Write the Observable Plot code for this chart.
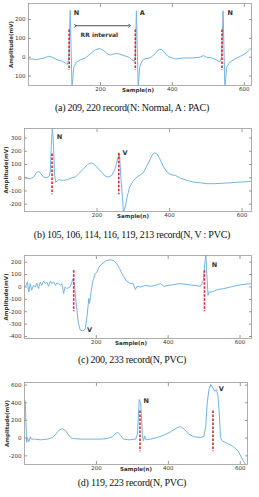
<!DOCTYPE html>
<html><head><meta charset="utf-8">
<script src="https://cdn.jsdelivr.net/npm/d3@7"></script>
<script src="https://cdn.jsdelivr.net/npm/@observablehq/plot@0.6"></script>
<style>
body{margin:0;background:#fff;}
#wrap{position:relative;width:259px;height:497px;overflow:hidden;background:#fff;}
.panel{position:absolute;left:0;}
.cap{position:absolute;left:0;width:264px;text-align:center;font-family:"Liberation Serif",serif;font-size:10px;letter-spacing:-0.25px;color:#111;line-height:12px;white-space:nowrap;}
</style></head><body><div id="wrap"></div><script>
// ---------- shared ----------
const xTicks = [200, 400, 600];

// ---------- (a) ----------
const sampleA = [0,24,43,56,66,80,94,103,108,112,116,121,126,133,144,158,172,186,198,209,219,228,242,251,265,279,288,294,297,300,305,309,316,324,338,352,361,369,378,388,408,431,454,477,486,495,509,523,532,537,541,546,551,560,574,588,602,612,620];
const ampA = [-9,-12,-4,5,0,-14,-21,-32,-39,-5,249,-165,-53,-26,-14,-4,18,39,47,35,18,12,21,18,9,0,-14,-21,0,246,-165,-53,-18,-8,-4,18,39,42,26,4,-9,-4,-4,0,9,0,-4,-14,-26,0,246,-165,-53,-26,-9,4,18,35,50];
const yTicksA = [200, 100, 0, -100];
const yTickTextA = ["200", "100", "0", "100"];
const beatXA = [113, 297, 538];
const beatTopA = [145, 145, 145];
const beatBottomA = [-70, -70, -70];
const beatLabelA = ["N", "A", "N"];
const beatLabelXA = [126, 309, 553];
const beatLabelYA = [237, 237, 237];
const rrStartA = [130], rrEndA = [281], rrLevelA = [167];
const rrTextA = ["RR interval"], rrTextXA = [197], rrTextYA = [118];

// ---------- (b) ----------
const sampleB = [2,16,25,33,39,45,53,62,68,71,74,77,80,83,86,94,108,122,131,140,149,163,174,184,193,202,214,223,232,241,250,257,262,266,270,273,278,283,290,299,310,320,329,338,347,354,359,366,373,384,393,404,416,430,448,467,485,504,522,540,568,595,623];
const ampB = [0,-8,5,38,50,30,5,0,12,43,242,380,242,18,-33,-15,-20,-12,0,5,30,68,100,113,100,73,38,12,5,18,68,143,180,-8,-145,-260,-220,-145,-70,-28,5,23,43,93,143,180,188,178,143,80,43,23,18,-3,-20,-33,-38,-45,-45,-43,-38,-33,-28];
const yTicksB = [300, 200, 100, 0, -100, -200];
const beatXB = [76, 260];
const beatTopB = [180, 185];
const beatBottomB = [-128, -128];
const beatLabelB = ["N", "V"];
const beatLabelXB = [89, 270];
const beatLabelYB = [312, 188];

// ---------- (c) ----------
const sampleC = [0,5,8,12,16,20,25,30,34,39,44,48,53,58,62,67,72,76,81,86,90,95,100,104,109,113,118,123,127,132,135,139,142,146,150,155,163,169,174,179,181,186,191,197,202,207,216,228,239,248,256,265,274,284,293,302,309,313,323,337,351,365,379,388,402,416,434,453,472,490,498,502,505,507,511,514,523,537,555,574,593,611,630];
const ampC = [0,13,40,-40,27,-27,13,0,32,-13,40,13,48,27,40,5,48,27,40,13,32,27,13,27,-53,0,-13,-5,0,40,67,27,-80,-187,-293,-347,-355,-341,-240,-93,-133,-27,53,107,120,160,187,213,219,213,192,147,93,48,32,27,-21,5,0,13,5,13,27,5,13,19,27,19,13,5,53,187,270,133,-67,-40,-40,-21,-13,0,13,21,27];
const yTicksC = [200, 100, 0, -100, -200, -300, -400];
const beatXC = [137, 501];
const beatTopC = [130, 130];
const beatBottomC = [-200, -200];
const beatLabelC = ["V", "N"];
const beatLabelXC = [174, 521];
const beatLabelYC = [-347, 181];

// ---------- (d) ----------
const sampleD = [0,2,4,6,8,12,16,19,27,45,64,78,87,96,106,115,124,133,156,184,212,231,244,254,260,268,275,291,309,314,319,323,328,331,334,338,351,369,388,406,425,434,444,457,471,490,499,504,508,513,518,524,529,534,538,542,545,550,564,578,593,601,608,615,620];
const ampD = [430,419,176,-49,7,-41,15,-11,-11,-19,-11,7,45,90,108,82,26,-4,-11,-11,-11,-4,15,56,64,26,-11,-19,-11,45,438,400,26,-30,26,-19,-11,7,34,71,120,131,101,45,15,7,19,138,400,550,606,568,531,550,475,251,7,-31,-60,-87,-142,-200,-254,-300,-320];
const yTicksD = [600, 400, 200, 0, -200];
const beatXD = [321, 524];
const beatTopD = [307, 307];
const beatBottomD = [-153, -153];
const beatLabelD = ["N", "V"];
const beatLabelXD = [331, 540];
const beatLabelYD = [419, 557];

const yAxisLabel = "Amplitude(mV)";
const xAxisLabel = "Sample(n)";
const captions = [
  "(a) 209, 220 record(N: Normal, A : PAC)",
  "(b) 105, 106, 114, 116, 119, 213 record(N, V : PVC)",
  "(c) 200, 233 record(N, PVC)",
  "(d) 119, 223 record(N, PVC)"
];

// ---------- drawing ----------
const lineColor = "#74b4e2";
const redColor = "#e0262a";
const frameColor = "#9a9a9a";
const font = "'DejaVu Sans', sans-serif";

function panel(cfg) {
  const pts = cfg.sample.map((s, i) => ({s, v: cfg.amp[i]}));
  const beats = cfg.beatX.map((x, i) => ({x, y1: cfg.beatTop[i], y2: cfg.beatBottom[i]}));
  const labs = cfg.labelText.map((t, i) => ({t, x: cfg.labelX[i], y: cfg.labelY[i]}));
  const fmt = cfg.yTickText ? (d => cfg.yTickText[cfg.yTicks.indexOf(d)]) : (d => String(d));
  const marks = [
    Plot.line(pts, {x: "s", y: "v", stroke: lineColor, strokeWidth: 1, clip: true}),
    Plot.ruleX(beats, {x: "x", y1: "y1", y2: "y2", stroke: redColor, strokeWidth: 1.6, strokeDasharray: "2.5,1.5"}),
    Plot.text(labs, {x: "x", y: "y", text: "t", textAnchor: "start", fontSize: 6.5, fontWeight: "bold", fill: "#333"}),
    Plot.frame({stroke: frameColor, strokeWidth: 0.8}),
    Plot.axisX(xTicks, {anchor: "bottom", tickSize: -3, tickPadding: 4.5, stroke: frameColor, fill: "#333", label: null}),
    Plot.axisX(xTicks, {anchor: "top", tickSize: -3, tickFormat: () => "", stroke: frameColor, label: null}),
    Plot.axisY(cfg.yTicks, {anchor: "left", tickSize: -3, tickPadding: 6, tickFormat: fmt, stroke: frameColor, fill: "#333", label: null}),
    Plot.axisY(cfg.yTicks, {anchor: "right", tickSize: -3, tickFormat: () => "", stroke: frameColor, label: null}),
    Plot.axisY([], {anchor: "left", tickSize: 0, label: yAxisLabel, labelAnchor: "center", labelArrow: false, labelOffset: cfg.yLabelOffset, fontWeight: "bold", fill: "#333"}),
    Plot.text([xAxisLabel], {frameAnchor: "bottom", dy: 4.5, dx: cfg.xLabelDx, lineAnchor: "middle", fontWeight: "bold", fill: "#333"})
  ];
  if (cfg.extra) marks.push(...cfg.extra);
  return Plot.plot({
    width: 259,
    height: cfg.height,
    marginTop: 3,
    marginBottom: 10,
    marginLeft: cfg.ml,
    marginRight: cfg.mr,
    x: {domain: cfg.xDomain, label: null},
    y: {domain: cfg.yDomain, label: null},
    style: {fontFamily: font, fontSize: "5.5px", background: "transparent", overflow: "visible"},
    marks
  });
}

const rrExtra = [
  Plot.link([0], {x1: () => rrStartA[0], x2: () => rrEndA[0], y1: () => rrLevelA[0], y2: () => rrLevelA[0], stroke: "#222", strokeWidth: 0.8, markerStart: "arrow", markerEnd: "arrow"}),
  Plot.text(rrTextA, {x: rrTextXA, y: rrTextYA, text: d => d, fontSize: 6, fontWeight: "bold", fill: "#333"})
];

const panels = [
  {top: 0, cfg: {sample: sampleA, amp: ampA, xDomain: [0, 620], yDomain: [-150, 285], yTicks: yTicksA, yTickText: yTickTextA,
    beatX: beatXA, beatTop: beatTopA, beatBottom: beatBottomA, labelText: beatLabelA, labelX: beatLabelXA, labelY: beatLabelYA,
    ml: 28, mr: 8, height: 95, xLabelDx: -2, yLabelOffset: 19.7, extra: rrExtra}, cap: 108},
  {top: 125, cfg: {sample: sampleB, amp: ampB, xDomain: [0, 626], yDomain: [-255, 372], yTicks: yTicksB,
    beatX: beatXB, beatTop: beatTopB, beatBottom: beatBottomB, labelText: beatLabelB, labelX: beatLabelXB, labelY: beatLabelYB,
    ml: 24, mr: 8, height: 96, xLabelDx: -5, yLabelOffset: 20.7}, cap: 235},
  {top: 252, cfg: {sample: sampleC, amp: ampC, xDomain: [0, 632], yDomain: [-416, 254], yTicks: yTicksC,
    beatX: beatXC, beatTop: beatTopC, beatBottom: beatBottomC, labelText: beatLabelC, labelX: beatLabelXC, labelY: beatLabelYC,
    ml: 24, mr: 8, height: 96, xLabelDx: -7, yLabelOffset: 20.7}, cap: 360},
  {top: 379, cfg: {sample: sampleD, amp: ampD, xDomain: [0, 620], yDomain: [-298, 629], yTicks: yTicksD,
    beatX: beatXD, beatTop: beatTopD, beatBottom: beatBottomD, labelText: beatLabelD, labelX: beatLabelXD, labelY: beatLabelYD,
    ml: 24, mr: 12, height: 95, xLabelDx: 0, yLabelOffset: 19.7}, cap: 483}
];

const wrap = document.getElementById("wrap");
panels.forEach((p, i) => {
  const div = document.createElement("div");
  div.className = "panel";
  div.style.top = p.top + "px";
  div.appendChild(panel(p.cfg));
  wrap.appendChild(div);
  const cap = document.createElement("div");
  cap.className = "cap";
  cap.style.top = (p.cap - 6) + "px";
  cap.textContent = captions[i];
  wrap.appendChild(cap);
});
</script></body></html>
